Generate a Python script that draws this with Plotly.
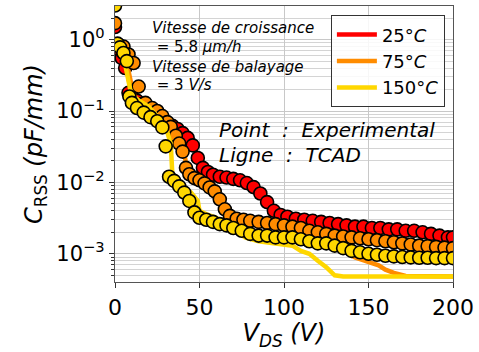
import numpy as np
import plotly.graph_objects as go

# Measured C_RSS (pF/mm) versus V_DS (V)
red_v = [0, 2, 4, 6, 8, 10, 13, 16, 19, 22,
         25, 28, 31, 34, 37, 40, 43, 46, 49, 52,
         55, 58, 62, 66, 70, 74, 78, 82, 86, 90,
         94, 98, 102, 107, 112, 117, 122, 127, 132, 137,
         142, 147, 152, 157, 162, 167, 172, 177, 182, 187,
         192, 197, 200]
red_c = [1.5, 0.75, 0.55, 0.40, 0.18, 0.16, 0.14, 0.125, 0.11, 0.098,
         0.088, 0.078, 0.068, 0.062, 0.056, 0.049, 0.042, 0.033, 0.022, 0.016,
         0.0140, 0.0128, 0.0120, 0.0117, 0.0112, 0.0107, 0.0098, 0.0086, 0.0070, 0.0053,
         0.0040, 0.0035, 0.0033, 0.0031, 0.0030, 0.0029, 0.0028, 0.0027, 0.0026, 0.0025,
         0.0024, 0.0024, 0.0023, 0.0023, 0.0022, 0.0022, 0.0021, 0.0021, 0.0020, 0.0019,
         0.0018, 0.0017, 0.0017]

orange_v = [0, 2, 5, 8, 11, 14, 18, 22, 25, 28,
            31, 33, 36, 38, 40, 42, 44, 47, 50, 53,
            56, 59, 62, 65, 68, 72, 76, 80, 85, 90,
            95, 100, 105, 110, 115, 120, 125, 130, 135, 140,
            145, 150, 155, 160, 165, 170, 175, 180, 185, 190,
            195, 200]
orange_c = [1.7, 0.85, 0.80, 0.62, 0.47, 0.22, 0.13, 0.11, 0.10, 0.085,
            0.070, 0.060, 0.045, 0.035, 0.027, 0.016, 0.013, 0.0115, 0.0107, 0.0097,
            0.0085, 0.0075, 0.0058, 0.0042, 0.0034, 0.0031, 0.0030, 0.0029, 0.0028, 0.0027,
            0.0026, 0.0025, 0.0024, 0.0023, 0.0021, 0.0020, 0.0019, 0.0018, 0.00175, 0.0017,
            0.00165, 0.0016, 0.00155, 0.0015, 0.00145, 0.0014, 0.00135, 0.0013, 0.00128, 0.00125,
            0.00122, 0.0012]

yellow_v = [0, 1.5, 3, 5, 7, 8.5, 10, 13, 17, 21,
            25, 28, 30, 32, 35, 38, 41, 44, 47, 50,
            54, 58, 62, 66, 70, 75, 80, 85, 90, 95,
            100, 105, 110, 115, 120, 125, 130, 135, 140, 145,
            150, 155, 160, 165, 170, 175, 180, 185, 190, 195,
            200]
yellow_c = [3.0, 0.88, 0.78, 0.65, 0.50, 0.16, 0.13, 0.11, 0.095, 0.082,
            0.072, 0.059, 0.032, 0.012, 0.0105, 0.0088, 0.0072, 0.0055, 0.0038, 0.0032,
            0.0030, 0.0028, 0.0026, 0.0025, 0.0023, 0.0021, 0.0019, 0.0018, 0.0018, 0.0017,
            0.0017, 0.0017, 0.0016, 0.0015, 0.0014, 0.0014, 0.0013, 0.0012, 0.0011, 0.00105,
            0.0010, 0.00097, 0.00094, 0.00092, 0.0009, 0.00089, 0.00088, 0.00088, 0.00087, 0.00087,
            0.00087]

# TCAD simulations
red_line_v = [0, 3, 6, 9, 12, 20, 30, 40, 45, 50,
              55, 60, 70, 80, 85, 90, 95, 100, 120, 140,
              160, 180, 200]
red_line_c = [0.9, 0.8, 0.5, 0.22, 0.16, 0.11, 0.075, 0.05, 0.038, 0.022,
              0.0145, 0.0125, 0.0112, 0.0095, 0.008, 0.0055, 0.0040, 0.0034, 0.0029, 0.0025,
              0.0022, 0.0020, 0.0018]

orange_line_v = [0, 3, 6, 9, 11, 15, 20, 25, 30, 35,
                 38, 40, 41, 42, 43, 50, 55, 60, 63, 66,
                 70, 80, 90, 100, 108, 120, 130, 135, 142, 150,
                 156, 160, 165, 172, 200]
orange_line_c = [0.9, 0.8, 0.6, 0.3, 0.17, 0.13, 0.11, 0.095, 0.075, 0.055,
                 0.042, 0.035, 0.025, 0.017, 0.014, 0.011, 0.0095, 0.0075, 0.0055, 0.0040,
                 0.0033, 0.0028, 0.0025, 0.0022, 0.0018, 0.0014, 0.0012, 0.0011, 0.00089, 0.00078,
                 0.00069, 0.0006, 0.00054, 0.00049, 0.00048]

yellow_line_v = [0, 3, 6, 9, 12, 20, 27, 31, 33, 34,
                 40, 45, 49, 50, 55, 60, 70, 77, 85, 97,
                 105, 110, 115, 120, 125, 130, 135, 200]
yellow_line_c = [0.9, 0.78, 0.45, 0.2, 0.15, 0.115, 0.075, 0.05, 0.035, 0.012,
                 0.009, 0.0072, 0.0055, 0.004, 0.0035, 0.0032, 0.0022, 0.0017, 0.0015, 0.0014,
                 0.0013, 0.0011, 0.0010, 0.0008, 0.00065, 0.0005, 0.00048, 0.00048]

labels = ["25°<i>C</i>", "75°<i>C</i>", "150°<i>C</i>"]
colors = ["#ff0000", "#ff8c00", "#ffd700"]

x_ticks = [0, 50, 100, 150, 200]
y_ticks = [1e-3, 1e-2, 1e-1, 1e0]
y_ticktext = ["10<sup>−3</sup>", "10<sup>−2</sup>", "10<sup>−1</sup>", "10<sup>0</sup>"]
y_minor = [m * 10.0 ** e for e in range(-4, 1) for m in range(2, 10)]

FONT = "DejaVu Sans"

fig = go.Figure()
series = [
    (red_v, red_c, red_line_v, red_line_c),
    (orange_v, orange_c, orange_line_v, orange_line_c),
    (yellow_v, yellow_c, yellow_line_v, yellow_line_c),
]
for (pv, pc, lv, lc), name, col in zip(series, labels, colors):
    fig.add_trace(go.Scatter(
        x=lv, y=lc, mode="lines", name=name,
        line=dict(color=col, width=4.5),
    ))
    fig.add_trace(go.Scatter(
        x=pv, y=pc, mode="markers", showlegend=False,
        marker=dict(color=col, size=13, line=dict(color="black", width=1.6)),
    ))

ann_font = dict(family=FONT, size=15, color="black")
big_font = dict(family=FONT, size=20, color="black")
annotations = [
    dict(text="<i>Vitesse de croissance</i>", x=0.103, y=0.920, font=ann_font),
    dict(text=" = 5.8 <i>μm/h</i>", x=0.103, y=0.851, font=ann_font),
    dict(text="<i>Vitesse de balayage</i>", x=0.103, y=0.779, font=ann_font),
    dict(text=" = 3 <i>V/s</i>", x=0.103, y=0.714, font=ann_font),
    dict(text="<i>Point  :  Experimental</i>", x=0.303, y=0.549, font=big_font),
    dict(text="<i>Ligne  :  TCAD</i>", x=0.303, y=0.459, font=big_font),
]
for a in annotations:
    a.update(xref="paper", yref="paper", xanchor="left", yanchor="middle",
             showarrow=False)

fig.update_layout(
    width=479, height=352,
    margin=dict(l=115, r=23, t=5, b=70),
    paper_bgcolor="white", plot_bgcolor="white",
    font=dict(family=FONT, color="black"),
    annotations=annotations,
    legend=dict(
        x=0.976, y=0.966, xanchor="right", yanchor="top",
        bgcolor="rgba(255,255,255,0.85)", bordercolor="#333333", borderwidth=1,
        font=dict(family=FONT, size=18, color="black"),
        itemwidth=40, tracegroupgap=0,
    ),
    xaxis=dict(
        range=[0, 200], tickvals=x_ticks,
        tickfont=dict(family=FONT, size=22),
        ticks="outside", ticklen=5, tickcolor="#333333",
        showgrid=True, gridcolor="#c8c8c8", gridwidth=1,
        showline=True, linecolor="#555555", linewidth=1.2, mirror=True,
        zeroline=False,
        title=dict(text="<i>V</i><sub><i>DS</i></sub> <i>(V)</i>",
                   font=dict(family=FONT, size=24), standoff=3),
    ),
    yaxis=dict(
        type="log", range=[-3.395, 0.471],
        tickvals=y_ticks, ticktext=y_ticktext,
        tickfont=dict(family=FONT, size=21),
        ticks="outside", ticklen=5, tickcolor="#333333",
        showgrid=True, gridcolor="#c8c8c8", gridwidth=1,
        minor=dict(tickvals=y_minor, ticks="outside", ticklen=3,
                   tickcolor="#333333", showgrid=True,
                   gridcolor="#d4d4d4", gridwidth=1),
        showline=True, linecolor="#555555", linewidth=1.2, mirror=True,
        zeroline=False,
        title=dict(text="<i>C</i><sub>RSS</sub> <i>(pF/mm)</i>",
                   font=dict(family=FONT, size=24), standoff=6),
    ),
)

fig.write_html("out.html")
